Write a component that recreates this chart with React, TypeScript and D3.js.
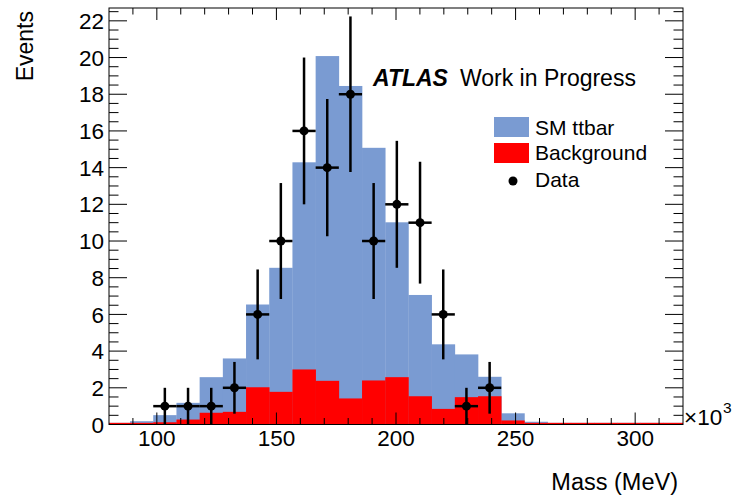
import React from 'react';
import * as d3 from 'd3';

// Histogram bin edges (mass, x10^3 MeV)
const binEdges = [79.1, 88.8, 98.5, 108.2, 117.9, 127.6, 137.3, 147.0, 156.7, 166.4, 176.1, 185.8, 195.5, 205.2, 214.9, 224.6, 234.3, 244.0, 253.7, 263.4, 273.1, 282.8, 292.5, 302.2, 311.9, 321.6];
// Stack total (SM ttbar + background) per bin
const smTtbarStack = [0.09, 0.18, 0.51, 1.18, 2.58, 3.6, 6.54, 8.54, 14.29, 20.08, 18.45, 15.08, 11.02, 7.06, 4.37, 3.82, 2.6, 0.61, 0.15, 0.09, 0.09, 0.09, 0.09, 0.09, 0.09];
// Background per bin
const background = [0.09, 0.09, 0.12, 0.27, 0.64, 0.69, 2.03, 1.78, 3.0, 2.38, 1.42, 2.4, 2.58, 1.54, 0.85, 1.49, 1.54, 0.22, 0.09, 0.09, 0.09, 0.09, 0.09, 0.09, 0.09];
// Data counts per bin (null = no point)
const dataCounts: (number | null)[] = [null, null, 1, 1, 1, 2, 6, 10, 16, 14, 18, 10, 12, 11, 6, 1, 2, null, null, null, null, null, null, null, null];
const dataErrors: (number | null)[] = [null, null, 1, 1, 1, 1.41, 2.45, 3.16, 4, 3.74, 4.24, 3.16, 3.46, 3.32, 2.45, 1, 1.41, null, null, null, null, null, null, null, null];

const yTickValues = [0, 2, 4, 6, 8, 10, 12, 14, 16, 18, 20, 22];
const xTickValues = [100, 150, 200, 250, 300];
const legendLabels = ['SM ttbar', 'Background', 'Data'];

const W = 735;
const H = 499;
const F = { left: 109, right: 683, top: 8, bottom: 424.5 };
const BLUE = '#7a9bd2';
const RED = '#ff0000';
const FONT = "'Liberation Sans', Arial, Helvetica, sans-serif";

export default function App() {
  const x = d3.scaleLinear().domain([80, 320]).range([F.left, F.right]);
  const y = d3.scaleLinear().domain([0, 22.7]).range([F.bottom, F.top]);

  const bins = d3.range(binEdges.length - 1).map((i) => ({
    x0: binEdges[i],
    x1: binEdges[i + 1],
    total: smTtbarStack[i],
    bg: background[i],
    d: dataCounts[i],
    e: dataErrors[i],
  }));

  const yMinor = d3.range(0, 22.7, 0.5).filter((v) => Math.abs(v % 2) > 1e-6);
  const xMinor = d3.range(90, 320, 10).filter((v) => v % 50 !== 0);

  const majY = 18, minY = 9.5, majX = 12, minX = 6.5;

  return (
    <svg width={W} height={H} style={{ position: 'absolute', left: 0, top: 0, background: '#fff' }} fontFamily={FONT}>
      <defs>
        <clipPath id="plotclip">
          <rect x={F.left} y={F.top} width={F.right - F.left} height={F.bottom - F.top} />
        </clipPath>
      </defs>
      <rect x={0} y={0} width={W} height={H} fill="#fff" />
      <g clipPath="url(#plotclip)">
        {bins.map((b, i) => (
          <rect key={'t' + i} x={x(b.x0)} y={y(b.total)} width={x(b.x1) - x(b.x0) + 0.3} height={y(0) - y(b.total)} fill={BLUE} />
        ))}
        {bins.map((b, i) => (
          <rect key={'b' + i} x={x(b.x0)} y={y(b.bg)} width={x(b.x1) - x(b.x0) + 0.3} height={y(0) - y(b.bg)} fill={RED} />
        ))}
      </g>
      {/* frame */}
      <rect x={F.left} y={F.top} width={F.right - F.left} height={F.bottom - F.top} fill="none" stroke="#000" strokeWidth={1} />
      {/* ticks */}
      <g stroke="#000" strokeWidth={1}>
        {yTickValues.map((v) => (
          <g key={'yt' + v}>
            <line x1={F.left} x2={F.left + majY} y1={y(v)} y2={y(v)} />
            <line x1={F.right} x2={F.right - majY} y1={y(v)} y2={y(v)} />
          </g>
        ))}
        {yMinor.map((v) => (
          <g key={'ym' + v}>
            <line x1={F.left} x2={F.left + minY} y1={y(v)} y2={y(v)} />
            <line x1={F.right} x2={F.right - minY} y1={y(v)} y2={y(v)} />
          </g>
        ))}
        {xTickValues.map((v) => (
          <g key={'xt' + v}>
            <line x1={x(v)} x2={x(v)} y1={F.bottom} y2={F.bottom - majX} />
            <line x1={x(v)} x2={x(v)} y1={F.top} y2={F.top + majX} />
          </g>
        ))}
        {xMinor.map((v) => (
          <g key={'xm' + v}>
            <line x1={x(v)} x2={x(v)} y1={F.bottom} y2={F.bottom - minX} />
            <line x1={x(v)} x2={x(v)} y1={F.top} y2={F.top + minX} />
          </g>
        ))}
      </g>
      {/* data points */}
      <g>
        {bins.map((b, i) =>
          b.d === null ? null : (
            <g key={'d' + i}>
              <line x1={x(b.x0)} x2={x(b.x1)} y1={y(b.d)} y2={y(b.d)} stroke="#000" strokeWidth={2.5} />
              <line x1={x((b.x0 + b.x1) / 2)} x2={x((b.x0 + b.x1) / 2)} y1={y(b.d - (b.e as number))} y2={y(b.d + (b.e as number))} stroke="#000" strokeWidth={2.5} />
              <circle cx={x((b.x0 + b.x1) / 2)} cy={y(b.d)} r={4.5} fill="#000" />
            </g>
          )
        )}
      </g>
      {/* tick labels */}
      <g fontSize={22.5} fill="#000">
        {yTickValues.map((v) => (
          <text key={'yl' + v} x={104} y={y(v)} dy="0.36em" textAnchor="end">{v}</text>
        ))}
        {xTickValues.map((v) => (
          <text key={'xl' + v} x={x(v)} y={445.5} textAnchor="middle">{v}</text>
        ))}
        <text x={684} y={424.5}>×10</text>
        <text x={723} y={413} fontSize={15.5}>3</text>
      </g>
      {/* axis titles */}
      <text x={678} y={490} textAnchor="end" fontSize={23.5}>Mass (MeV)</text>
      <text transform="translate(33,11) rotate(-90)" textAnchor="end" fontSize={23}>Events</text>
      {/* ATLAS label */}
      <text x={373} y={86} fontSize={23}>
        <tspan fontWeight="bold" fontStyle="italic">ATLAS</tspan>
        <tspan dx={12}>Work in Progress</tspan>
      </text>
      {/* legend */}
      <g>
        <rect x={494} y={117} width={35} height={20} fill={BLUE} />
        <rect x={494} y={143} width={35} height={20} fill={RED} />
        <circle cx={513} cy={181} r={4.5} fill="#000" />
        <text x={535} y={134.5} fontSize={21}>{legendLabels[0]}</text>
        <text x={535} y={160} fontSize={21}>{legendLabels[1]}</text>
        <text x={535} y={187} fontSize={21}>{legendLabels[2]}</text>
      </g>
    </svg>
  );
}
